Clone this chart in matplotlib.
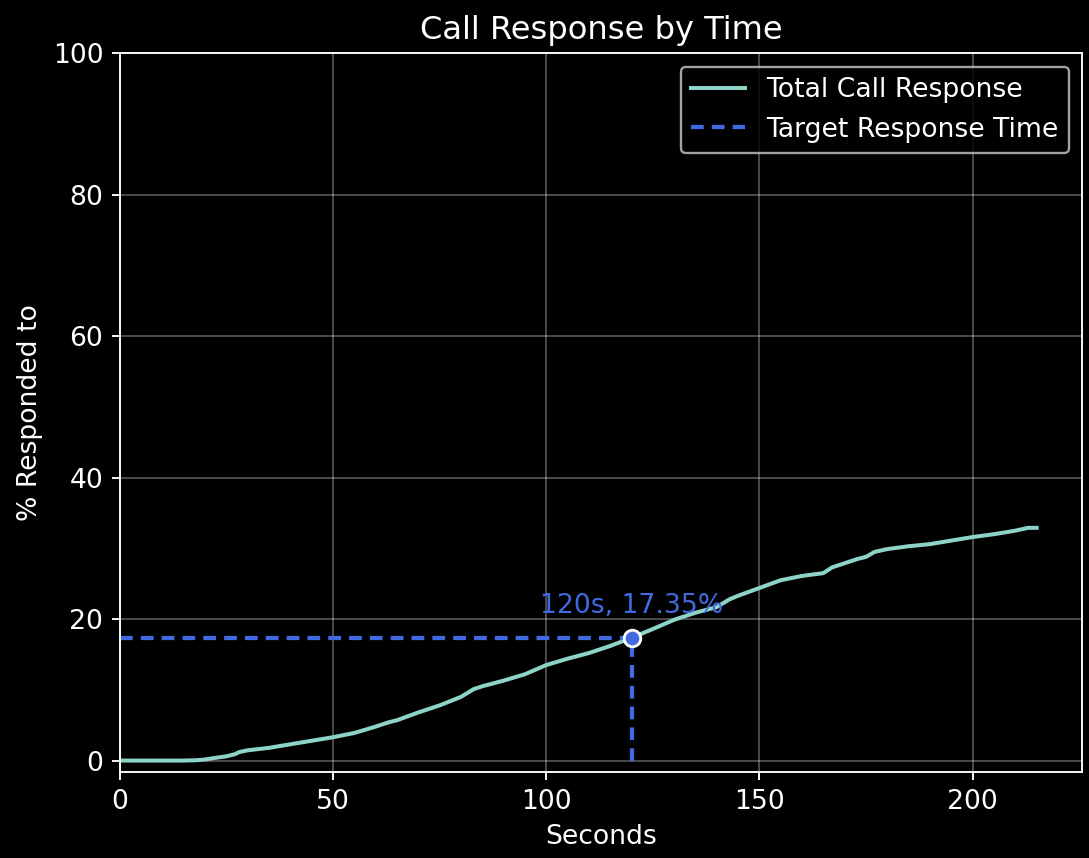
import matplotlib
matplotlib.use("Agg")
import matplotlib.pyplot as plt

# cumulative share of calls answered
seconds = [0, 5, 10, 15, 18, 20, 22, 25, 27, 28, 30, 35, 40, 45, 50, 55, 60,
           63, 65, 70, 75, 80, 83, 85, 90, 95, 100, 105, 110, 115, 120, 125,
           130, 135, 140, 143, 145, 150, 155, 160, 165, 167, 170, 173, 175,
           177, 180, 185, 190, 195, 200, 205, 210, 213, 215]
pct_responded = [0, 0, 0, 0, 0.05, 0.15, 0.35, 0.6, 0.9, 1.2, 1.45, 1.8, 2.3,
                 2.8, 3.3, 3.9, 4.8, 5.4, 5.7, 6.8, 7.8, 9.0, 10.1, 10.5, 11.3,
                 12.2, 13.5, 14.4, 15.2, 16.2, 17.35, 18.6, 19.9, 20.9, 21.7,
                 22.8, 23.3, 24.4, 25.5, 26.1, 26.5, 27.3, 27.9, 28.5, 28.8,
                 29.5, 29.9, 30.3, 30.6, 31.1, 31.6, 32.0, 32.5, 32.9, 32.9]

target_s = 120
target_pct = 17.35

plt.style.use('dark_background')
plt.rcParams['font.size'] = 11.3
plt.rcParams['axes.titlesize'] = 13.6

fig = plt.figure(figsize=(1089 / 170, 858 / 170), dpi=170)
ax = fig.add_axes([0.110, 0.100, 0.884, 0.838])

dash = (0, (3, 1.9))
ax.plot(seconds, pct_responded, color='#8dd3c7', linewidth=1.7,
        label='Total Call Response')
ax.plot([0, target_s], [target_pct, target_pct], linestyle=dash,
        color='royalblue', linewidth=1.8, label='Target Response Time')
ax.plot([target_s, target_s], [0, target_pct], linestyle=dash,
        color='royalblue', linewidth=1.8)
ax.plot(target_s, target_pct, 'o', color='royalblue', markersize=7,
        markeredgecolor='white', markeredgewidth=1.2, zorder=5)
ax.annotate(f'{target_s}s, {target_pct}%', (target_s, target_pct),
            xytext=(0, 8), textcoords='offset points', ha='center',
            va='bottom', color='royalblue')

ax.set_xlim(left=0)
ax.set_ylim(top=100)
ax.set_yticks([0, 20, 40, 60, 80, 100])
ax.grid(True, alpha=0.3)
ax.set_title('Call Response by Time')
ax.set_xlabel('Seconds')
ax.set_ylabel('% Responded to')
ax.legend(loc='upper right')

fig.savefig('out.png', dpi=170)
